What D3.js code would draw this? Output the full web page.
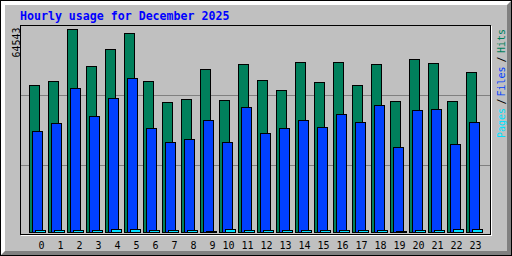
<!DOCTYPE html>
<html>
<head>
<meta charset="utf-8">
<script src="https://cdn.jsdelivr.net/npm/d3@7"></script>
<style>
  html, body { margin: 0; padding: 0; background: #c0c0c0; }
  svg { display: block; }
  text { font-family: 'DejaVu Sans Mono', monospace; }
</style>
</head>
<body>
<div id="chart"></div>
<script>
// Hourly usage, December 2025
const hours = d3.range(24)
const hitsData = [46740, 48010, 64543, 52780, 58184, 63271, 48010, 41333, 42287, 51826, 41969, 53416,
  48328, 45148, 54051, 47692, 54051, 46740, 53416, 41651, 55005, 53733, 41651, 50872]
const filesData = [32113, 34657, 45785, 36882, 42605, 48964, 33067, 28615, 29569, 35610, 28615, 39743,
  31477, 33067, 35610, 33384, 37518, 34974, 40379, 27025, 38789, 39108, 27979, 34974]
const pagesData = [640, 640, 640, 640, 960, 960, 640, 640, 640, 320, 960, 640,
  640, 640, 640, 640, 640, 640, 640, 320, 640, 640, 960, 960]
const maxLabel = '64543'
const title = 'Hourly usage for December 2025'
const legendParts = [
  {text: 'Pages', color: '#00e0ff', start: 138},
  {text: '/', color: '#000000', start: 104.5},
  {text: 'Files', color: '#0040ff', start: 96.5},
  {text: '/', color: '#000000', start: 62.5},
  {text: 'Hits', color: '#00805c', start: 53}
]

const width = 512
const height = 256
const grey = '#c0c0c0'
const dkgrey = '#808080'

const svg = d3.select('#chart').append('svg')
  .attr('width', width)
  .attr('height', height)
  .attr('shape-rendering', 'crispEdges')

svg.append('rect').attr('width', width).attr('height', height).attr('fill', grey)

// outer border + bevel
svg.append('rect')
  .attr('x', 0.5).attr('y', 0.5)
  .attr('width', width - 1).attr('height', height - 1)
  .attr('fill', 'none').attr('stroke', '#000')
for (let i = 1; i < 5; i++) {
  svg.append('line').attr('x1', i).attr('y1', i + 0.5).attr('x2', width - i - 1).attr('y2', i + 0.5).attr('stroke', '#fff')
  svg.append('line').attr('x1', i + 0.5).attr('y1', i).attr('x2', i + 0.5).attr('y2', height - i - 1).attr('stroke', '#fff')
  svg.append('line').attr('x1', i + 1).attr('y1', height - i - 0.5).attr('x2', width - i).attr('y2', height - i - 0.5).attr('stroke', dkgrey)
  svg.append('line').attr('x1', width - i - 0.5).attr('y1', i + 1).attr('x2', width - i - 0.5).attr('y2', height - i).attr('stroke', dkgrey)
}

// title
svg.append('text')
  .attr('x', 20).attr('y', 19.5)
  .attr('fill', '#0000ff')
  .attr('font-size', '11.6px')
  .attr('font-weight', 'bold')
  .text(title)

// scales
const baseY = 232
const x = d3.scaleLinear().domain([0, 24]).range([29, 29 + 24 * 19])
const y = d3.scaleLinear().domain([0, d3.max(hitsData)]).range([baseY, 29])

// grid lines
svg.append('g').selectAll('line').data([1, 2]).enter().append('line')
  .attr('x1', 21).attr('x2', 490)
  .attr('y1', d => 25 + d * 70 + 0.5).attr('y2', d => 25 + d * 70 + 0.5)
  .attr('stroke', dkgrey)

// bars
let series = [
  {data: hitsData, color: '#00805c', offset: 0},
  {data: filesData, color: '#0040ff', offset: 3},
  {data: pagesData, color: '#00e0ff', offset: 6}
]
series.forEach(s => {
  svg.append('g').selectAll('rect').data(hours).enter().append('rect')
    .attr('x', i => Math.round(x(i)) + s.offset + 0.5)
    .attr('y', i => Math.round(y(s.data[i])) + 0.5)
    .attr('width', 10)
    .attr('height', i => baseY - Math.round(y(s.data[i])))
    .attr('fill', s.color)
    .attr('stroke', '#000')
})

// inner box
svg.append('rect')
  .attr('x', 20.5).attr('y', 25.5)
  .attr('width', 470).attr('height', 209)
  .attr('fill', 'none').attr('stroke', '#000')
svg.append('line').attr('x1', 491.5).attr('y1', 26).attr('x2', 491.5).attr('y2', 236).attr('stroke', '#fff')
svg.append('line').attr('x1', 21).attr('y1', 235.5).attr('x2', 492).attr('y2', 235.5).attr('stroke', '#fff')

// hour labels
svg.append('g').selectAll('text').data(hours).enter().append('text')
  .attr('x', i => Math.round(x(i)) + 15.5)
  .attr('y', 248.5)
  .attr('text-anchor', 'end')
  .attr('font-size', '10px')
  .attr('fill', '#000')
  .text(i => String(i))

// max value label
svg.append('text')
  .attr('transform', 'translate(19.5,57.5) rotate(-90)')
  .attr('font-size', '10px')
  .attr('fill', '#000')
  .text(maxLabel)

// legend
svg.append('g').selectAll('text').data(legendParts).enter().append('text')
  .attr('transform', d => `translate(505,${d.start}) rotate(-90)`)
  .attr('font-size', '10px')
  .attr('fill', d => d.color)
  .text(d => d.text)
</script>
</body>
</html>
